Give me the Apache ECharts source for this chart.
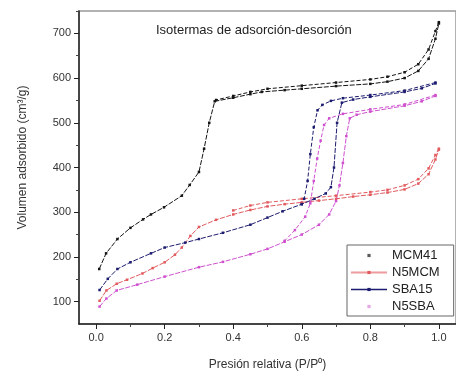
<!DOCTYPE html>
<html>
<head>
<meta charset="utf-8">
<script src="https://cdn.jsdelivr.net/npm/echarts@6/dist/echarts.min.js"></script>
<style>
html, body { margin: 0; padding: 0; background: #fff; }
#chart { width: 456px; height: 376px; }
</style>
</head>
<body>
<div id="chart"></div>
<script>
// ejes
var xLabels = [0, 0.2, 0.4, 0.6, 0.8, 1.0];
var xMinor = [0.1, 0.3, 0.5, 0.7, 0.9];
var yLabels = [100, 200, 300, 400, 500, 600, 700];
var yMinor = [150, 250, 350, 450, 550, 650, 750];

var names = ['MCM41', 'N5MCM', 'SBA15', 'N5SBA'];
var colors = ['#151515', '#e25a5e', '#1c1c70', '#cf4fcf'];

// MCM41
var mcm41Ads = [[0.009,173],[0.029,208],[0.062,240],[0.1,265],[0.137,284],[0.16,295],[0.198,311],[0.25,337],[0.273,361],[0.3,390],[0.315,442],[0.33,500],[0.346,548],[0.4,556],[0.45,564],[0.483,569],[0.55,573],[0.6,576],[0.7,582],[0.8,587],[0.85,592],[0.9,600],[0.94,616],[0.97,643],[0.99,688],[1.0,722]];
var mcm41Des = [[1.0,725],[0.99,705],[0.97,664],[0.94,631],[0.9,613],[0.85,603],[0.8,597],[0.7,590],[0.6,583],[0.5,576],[0.45,569],[0.4,560],[0.35,551]];
// N5MCM
var n5mcmAds = [[0.01,102],[0.03,125],[0.06,140],[0.09,149],[0.135,163],[0.165,175],[0.2,188],[0.23,205],[0.25,221],[0.275,247],[0.3,267],[0.35,283],[0.4,295],[0.45,305],[0.5,313],[0.55,318],[0.6,322],[0.65,326],[0.7,330],[0.75,335],[0.8,339],[0.85,344],[0.9,351],[0.94,364],[0.97,385],[0.99,418],[1.0,440]];
var n5mcmDes = [[1.0,442],[0.99,428],[0.97,398],[0.94,374],[0.9,360],[0.85,350],[0.8,345],[0.7,337],[0.6,330],[0.5,322],[0.45,315],[0.4,304]];
// SBA15
var sba15Ads = [[0.01,126],[0.034,151],[0.062,173],[0.1,188],[0.16,208],[0.2,221],[0.26,232],[0.3,240],[0.37,254],[0.45,272],[0.5,288],[0.544,302],[0.6,318],[0.637,330],[0.67,342],[0.685,356],[0.694,400],[0.703,500],[0.717,545],[0.75,552],[0.8,558],[0.9,569],[0.95,577],[0.99,588]];
var sba15Des = [[0.99,590],[0.9,572],[0.8,562],[0.72,555],[0.685,549],[0.66,540],[0.646,528],[0.635,490],[0.625,430],[0.617,370],[0.607,330],[0.6,318]];
// N5SBA
var n5sbaAds = [[0.01,89],[0.03,107],[0.06,125],[0.12,138],[0.2,156],[0.3,177],[0.37,189],[0.45,206],[0.5,218],[0.55,234],[0.6,250],[0.65,272],[0.68,295],[0.7,325],[0.71,360],[0.72,410],[0.73,470],[0.74,510],[0.76,518],[0.8,525],[0.9,538],[0.95,548],[0.99,560]];
var n5sbaDes = [[0.99,562],[0.9,541],[0.8,530],[0.72,520],[0.68,510],[0.665,495],[0.655,460],[0.645,420],[0.635,370],[0.625,320],[0.61,290],[0.58,260],[0.55,236]];

var branches = [
	[mcm41Ads, mcm41Des],
	[n5mcmAds, n5mcmDes],
	[sba15Ads, sba15Des],
	[n5sbaAds, n5sbaDes]
];

var series = [];
for (var i = 0; i < names.length; i++) {
	for (var j = 0; j < 2; j++) {
		series.push({
			name: names[i],
			type: 'line',
			data: branches[i][j],
			color: colors[i],
			symbol: 'rect',
			symbolSize: 2.5,
			lineStyle: { width: 1, type: j == 0 ? [5, 1.5] : [4, 2] },
			animation: false
		});
	}
}

var tickFont = { color: '#333', fontSize: 11, fontFamily: 'Liberation Sans' };

var option = {
	backgroundColor: '#fff',
	title: {
		text: 'Isotermas de adsorción-desorción',
		left: 151,
		top: 19,
		textStyle: { fontSize: 13, fontWeight: 'normal', color: '#222', fontFamily: 'Liberation Sans' }
	},
	legend: {
		orient: 'vertical',
		left: 347,
		top: 245,
		itemWidth: 36,
		itemHeight: 4,
		itemGap: 4,
		padding: [4, 14, 3, 3],
		backgroundColor: '#fff',
		borderColor: '#666',
		borderWidth: 1,
		borderRadius: 0,
		textStyle: { fontSize: 13, color: '#222', fontFamily: 'Liberation Sans' },
		data: [
			{ name: 'MCM41', lineStyle: { opacity: 0 }, itemStyle: { opacity: 0.7 } },
			{ name: 'N5MCM', lineStyle: { type: 'solid', opacity: 0.6 } },
			{ name: 'SBA15', lineStyle: { type: 'solid', width: 1.5 } },
			{ name: 'N5SBA', lineStyle: { opacity: 0 }, itemStyle: { opacity: 0.5 } }
		]
	},
	grid: {
		left: 79,
		top: 11,
		right: -14,
		bottom: 47,
		show: true,
		borderColor: '#999',
		borderWidth: 1.5
	},
	xAxis: [{
		type: 'value',
		min: -0.05,
		max: 1.05,
		name: 'Presión relativa (P/P⁰)',
		nameLocation: 'middle',
		nameGap: 35,
		nameTextStyle: { fontSize: 12, color: '#333', fontFamily: 'Liberation Sans' },
		axisLine: { onZero: false, lineStyle: { color: '#222', width: 1.5 } },
		axisTick: { customValues: xLabels, length: 5, lineStyle: { color: '#222' } },
		axisLabel: {
			customValues: xLabels,
			margin: 8,
			color: tickFont.color,
			fontSize: tickFont.fontSize,
			fontFamily: tickFont.fontFamily,
			formatter: function(v) { return v.toFixed(1); }
		},
		splitLine: { show: false }
	}, {
		type: 'value',
		min: -0.05,
		max: 1.05,
		position: 'bottom',
		axisLine: { show: false, onZero: false },
		axisTick: { customValues: xMinor, length: 3, lineStyle: { color: '#444' } },
		axisLabel: { show: false },
		splitLine: { show: false }
	}],
	yAxis: [{
		type: 'value',
		min: 50,
		max: 750,
		name: 'Volumen adsorbido (cm³/g)',
		nameLocation: 'middle',
		nameGap: 50,
		nameTextStyle: { fontSize: 12, color: '#333', fontFamily: 'Liberation Sans', padding: [0, 0, 0, 20] },
		axisLine: { onZero: false, lineStyle: { color: '#222', width: 1.5 } },
		axisTick: { customValues: yLabels, length: 5, lineStyle: { color: '#222' } },
		axisLabel: {
			customValues: yLabels,
			margin: 8,
			color: tickFont.color,
			fontSize: tickFont.fontSize,
			fontFamily: tickFont.fontFamily
		},
		splitLine: { show: false }
	}, {
		type: 'value',
		min: 50,
		max: 750,
		position: 'left',
		axisLine: { show: false, onZero: false },
		axisTick: { customValues: yMinor, length: 3, lineStyle: { color: '#444' } },
		axisLabel: { show: false },
		splitLine: { show: false }
	}],
	series: series
};

var myChart = echarts.init(document.getElementById('chart'));
myChart.setOption(option);
</script>
</body>
</html>
